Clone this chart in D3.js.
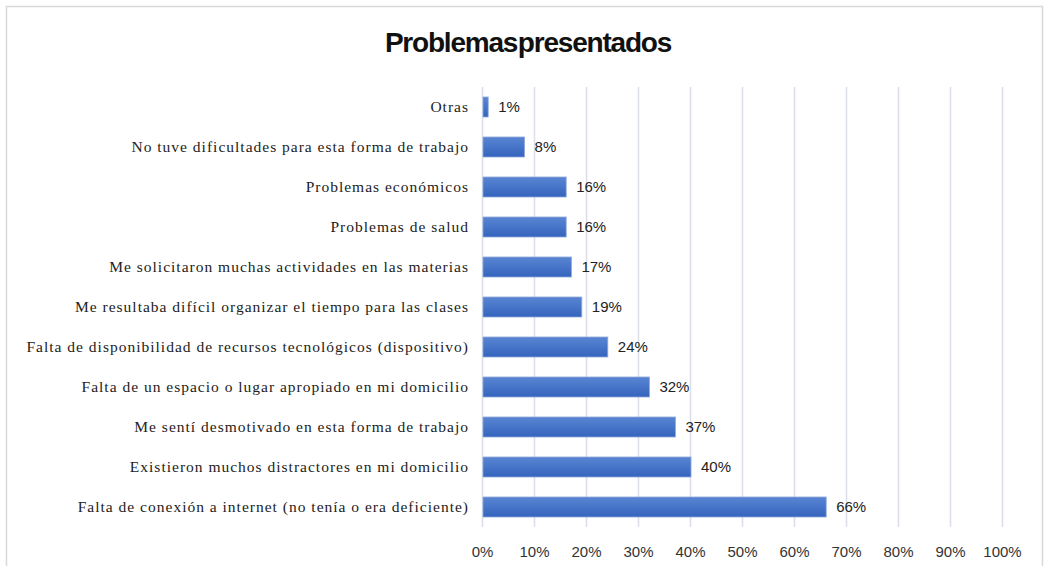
<!DOCTYPE html>
<meta charset="utf-8">
<script src="https://d3js.org/d3.v7.min.js"></script>
<style>
  body { margin: 0; background: #fff; }
</style>
<div id="my_dataviz"></div>
<script>
    // data, top to bottom as in the picture
    var categories = [
        "Otras",
        "No tuve dificultades para esta forma de trabajo",
        "Problemas económicos",
        "Problemas de salud",
        "Me solicitaron muchas actividades en las materias",
        "Me resultaba difícil organizar el tiempo para las clases",
        "Falta de disponibilidad de recursos tecnológicos (dispositivo)",
        "Falta de un espacio o lugar apropiado en mi domicilio",
        "Me sentí desmotivado en esta forma de trabajo",
        "Existieron muchos distractores en mi domicilio",
        "Falta de conexión a internet (no tenía o era deficiente)"
    ];
    var values = [1, 8, 16, 16, 17, 19, 24, 32, 37, 40, 66];
    var tickValues = [0, 10, 20, 30, 40, 50, 60, 70, 80, 90, 100];

    var W = 1049, H = 566;
    var margin = {top: 87, left: 482},
        width = 520,
        height = 440;

    var svg = d3.select("#my_dataviz")
      .append("svg")
        .attr("width", W)
        .attr("height", H);

    // chart frame
    svg.append("rect")
        .attr("x", 6.5).attr("y", 6.5)
        .attr("width", 1036).attr("height", 580)
        .attr("fill", "none")
        .attr("stroke", "#d9d9d9")
        .attr("stroke-width", 1.5);

    var grad = svg.append("defs").append("linearGradient")
        .attr("id", "barGrad")
        .attr("x1", 0).attr("y1", 0).attr("x2", 0).attr("y2", 1);
    grad.append("stop").attr("offset", "0%").attr("stop-color", "#5a85d2");
    grad.append("stop").attr("offset", "100%").attr("stop-color", "#3464bd");

    svg.append("text")
        .attr("x", 528)
        .attr("y", 52)
        .attr("text-anchor", "middle")
        .style("font-family", "'Liberation Sans Narrow', 'Liberation Sans', Arial, sans-serif")
        .style("font-weight", "bold")
        .style("font-size", "28px")
        .style("letter-spacing", "-1.2px")
        .style("word-spacing", "-6px")
        .attr("fill", "#111")
        .text("Problemas presentados");

    var g = svg.append("g")
        .attr("transform", "translate(" + margin.left + "," + margin.top + ")");

    var x = d3.scaleLinear()
        .domain([0, 100])
        .range([0, width]);

    var y = d3.scaleBand()
        .domain(categories)
        .range([0, height])
        .paddingInner(0.5)
        .paddingOuter(0.25);

    // gridlines
    g.selectAll(".grid")
        .data(tickValues)
        .enter()
        .append("line")
        .attr("x1", function(d) { return Math.round(x(d)) + 0.5; })
        .attr("x2", function(d) { return Math.round(x(d)) + 0.5; })
        .attr("y1", 0)
        .attr("y2", height)
        .attr("stroke", "#d9dee8")
        .attr("stroke-width", 1.5);

    // x axis
    var xAxis = g.append("g")
        .attr("transform", "translate(0," + (height + 16) + ")")
        .call(d3.axisBottom(x).tickValues(tickValues).tickSize(0)
              .tickFormat(function(d) { return d + "%"; }));
    xAxis.select(".domain").remove();
    xAxis.selectAll("text")
        .style("font-family", "'Liberation Sans', Arial, sans-serif")
        .style("font-size", "15px")
        .attr("fill", "#333");

    // y axis labels
    var yAxis = g.append("g")
        .call(d3.axisLeft(y).tickSize(0).tickPadding(13));
    yAxis.select(".domain").remove();
    yAxis.selectAll("text")
        .style("font-family", "'Liberation Serif', 'Times New Roman', serif")
        .style("font-size", "15.5px")
        .style("letter-spacing", "1px")
        .attr("fill", "#222");

    // bars
    g.selectAll("myRect")
        .data(values)
        .enter()
        .append("rect")
        .attr("x", x(0) + 1)
        .attr("y", function(d, i) { return y(categories[i]); })
        .attr("width", function(d) { return x(d) - x(0); })
        .attr("height", y.bandwidth())
        .attr("fill", "url(#barGrad)")
        .attr("stroke", "#8fa9db")
        .attr("stroke-width", 0.8);

    // value labels
    g.selectAll("myLabel")
        .data(values)
        .enter()
        .append("text")
        .attr("x", function(d) { return x(d) + 11; })
        .attr("y", function(d, i) { return y(categories[i]) + y.bandwidth() / 2; })
        .attr("dy", "0.35em")
        .style("font-family", "'Liberation Sans', Arial, sans-serif")
        .style("font-size", "15px")
        .attr("fill", "#222")
        .text(function(d) { return d + "%"; });
</script>
